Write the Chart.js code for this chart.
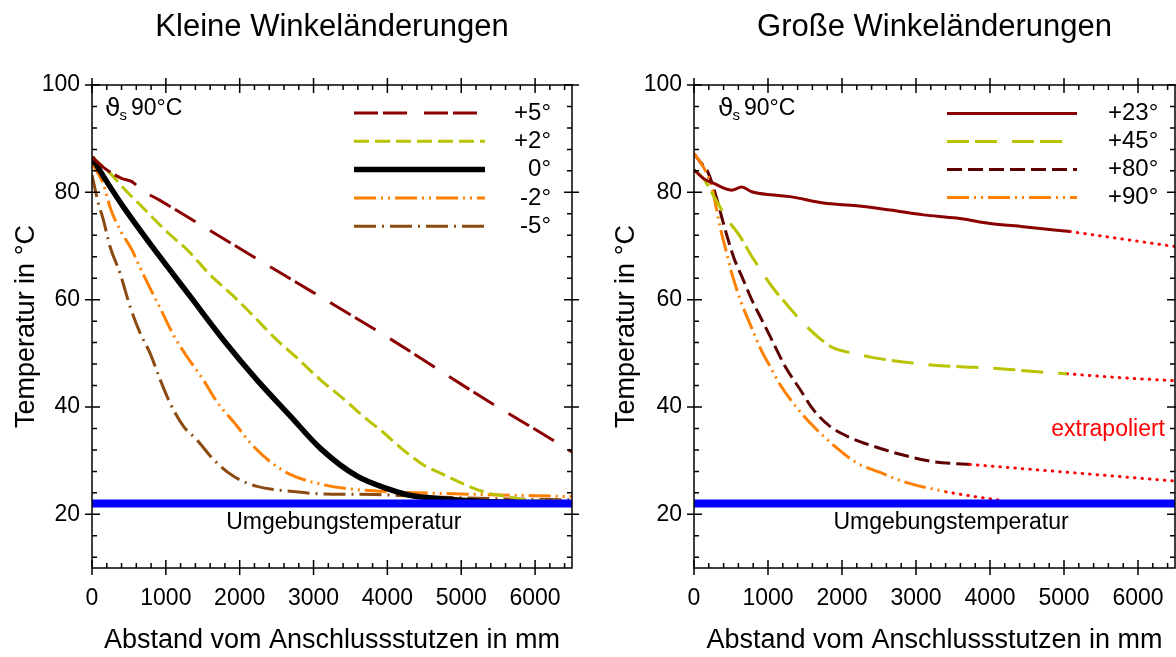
<!DOCTYPE html>
<html lang="de">
<head>
    <meta charset="UTF-8">
    <title>Winkeländerungen - Temperaturverlauf</title>
    <script src="https://cdn.jsdelivr.net/npm/chart.js"></script>
    <style>
        body {
            margin: 0;
            background-color: #ffffff;
        }
        #leftBox { position: absolute; left: 0; top: 0; }
        #rightBox { position: absolute; left: 600px; top: 0; }
    </style>
</head>
<body>
    <div id="leftBox"><canvas id="leftChart" width="600" height="657"></canvas></div>
    <div id="rightBox"><canvas id="rightChart" width="576" height="657"></canvas></div>

    <script>
        // ---------- Achsen ----------
        const xTickValues = [0, 1000, 2000, 3000, 4000, 5000, 6000];
        const yTickValues = [20, 40, 60, 80, 100];
        const xTitle = 'Abstand vom Anschlussstutzen in mm';
        const yTitle = 'Temperatur in °C';

        // Umgebungstemperatur
        const ambientX = [0, 6500];
        const ambientY = [22, 22];

        // ---------- Kleine Winkeländerungen ----------
        const plus5X = [0, 150, 400, 540, 675, 920, 1620, 2550, 3500, 4050, 5270, 6280, 6500];
        const plus5Y = [86.6, 84.7, 82.6, 82, 80.4, 78.5, 72.7, 65, 57.2, 52.6, 41.9, 33.5, 31.6];

        const plus2X = [0, 270, 425, 700, 1010, 1310, 1580, 1920, 2190, 2480, 2780, 3090, 3390, 3680, 3950, 4180, 4490, 4760, 4990, 5300, 5625, 5900, 6200, 6500];
        const plus2Y = [86.6, 83.2, 80.8, 77, 72.7, 69, 64.9, 60.6, 56.9, 52.8, 49.1, 45.1, 41.7, 38.2, 35.2, 32.4, 29.2, 27.4, 25.9, 24.2, 23.3, 22.7, 22.5, 22.4];

        const zeroX = [0, 200, 425, 880, 1330, 1780, 2230, 2680, 3100, 3590, 4040, 4320, 4720, 5300, 6500];
        const zeroY = [86.5, 82, 77.3, 68.7, 60.6, 52.5, 45.1, 38.4, 32.2, 27.1, 24.6, 23.5, 22.9, 22.4, 22.1];

        const minus2X = [0, 150, 250, 400, 540, 650, 810, 920, 1100, 1280, 1510, 1690, 1960, 2150, 2415, 2690, 3140, 3590, 4040, 5000, 6500];
        const minus2Y = [85.4, 81.7, 77, 72.5, 69.3, 66, 61.5, 58.5, 53.5, 49.5, 45, 41, 36.5, 33.2, 29.8, 27.4, 25.5, 24.6, 24.2, 23.8, 23.3];

        const minus5X = [0, 86, 153, 244, 380, 516, 651, 787, 923, 1058, 1239, 1420, 1646, 1917, 2234, 2687, 3139, 3817, 4495, 5500, 6500];
        const minus5Y = [83.2, 78, 74.9, 69.9, 64.9, 58.7, 53.8, 50, 45.1, 40.7, 36.4, 33.9, 30.2, 27.1, 25.2, 24.3, 23.8, 23.7, 23.3, 22.9, 22.7];

        // ---------- Große Winkeländerungen ----------
        const plus23X = [0, 126, 261, 509, 645, 780, 1072, 1297, 1748, 2198, 2648, 3099, 3550, 4000, 4450, 5080];
        const plus23Y = [84.2, 82.6, 81.7, 80.4, 81, 80.1, 79.5, 79.2, 78, 77.5, 76.7, 75.8, 75.2, 74.2, 73.6, 72.7];
        const plus23ExtX = [5080, 6500];
        const plus23ExtY = [72.7, 69.9];

        const plus45X = [0, 126, 284, 442, 622, 780, 869, 1050, 1253, 1500, 1680, 1883, 2153, 2423, 2829, 3324, 3775, 4270, 4676, 5040];
        const plus45Y = [84.2, 82.6, 78.9, 75.2, 71.8, 68.1, 66.2, 62.5, 59.1, 55.3, 53, 51, 50, 49.2, 48.4, 47.7, 47.4, 47, 46.5, 46.2];
        const plus45ExtX = [5040, 5720, 6500];
        const plus45ExtY = [46.2, 45.5, 44.9];

        const plus80X = [0, 81, 194, 306, 396, 531, 666, 780, 892, 1027, 1230, 1432, 1613, 1838, 2108, 2423, 2784, 3234, 3730];
        const plus80Y = [87.2, 85.7, 83.6, 78.9, 74.3, 68.1, 63.7, 60, 56.9, 53.2, 47.6, 43.3, 39.5, 36.4, 34.3, 32.7, 31.2, 29.8, 29.3];
        const plus80ExtX = [3730, 4811, 6500];
        const plus80ExtY = [29.3, 28.1, 26.2];

        const plus90X = [0, 81, 171, 239, 284, 351, 419, 509, 630, 750, 915, 1027, 1162, 1388, 1613, 1928, 2198, 2514, 2874, 3400];
        const plus90Y = [87.2, 85.7, 83.6, 81.1, 78.3, 73.6, 69.9, 65, 59.8, 55.7, 50.4, 47.6, 44.2, 39.9, 36.4, 32.4, 29.6, 27.8, 25.9, 24.2];
        const plus90ExtX = [3400, 3750, 4150];
        const plus90ExtY = [24.2, 23.4, 22.6];

        const toPoints = (xs, ys) => xs.map((x, i) => ({ x: x, y: ys[i] }));

        Chart.defaults.font.family = '"Liberation Sans", Arial, sans-serif';
        Chart.defaults.color = '#000';

        const line = (label, xs, ys, color, width, dash, order) => ({
            label: label,
            data: toPoints(xs, ys),
            borderColor: color,
            borderWidth: width,
            borderDash: dash,
            order: order || 0,
            pointRadius: 0,
            fill: false,
            cubicInterpolationMode: 'monotone'
        });
        const ambient = () => ({
            label: 'Umgebungstemperatur', inLegend: false,
            data: toPoints(ambientX, ambientY),
            borderColor: '#0000ff', borderWidth: 8, borderCapStyle: 'round',
            pointRadius: 0, fill: false
        });
        const extrap = (xs, ys) => ({
            label: 'extrapoliert', inLegend: false,
            data: toPoints(xs, ys),
            borderColor: '#ff0000', borderWidth: 3, borderDash: [0.5, 7], borderCapStyle: 'round',
            pointRadius: 0, fill: false, cubicInterpolationMode: 'monotone'
        });

        // Rahmen + Haupt- und Nebenstriche auf allen vier Seiten
        const frameTicks = {
            id: 'frameTicks',
            afterDraw(chart) {
                const { ctx, chartArea: a, scales: { x, y } } = chart;
                ctx.save();
                ctx.strokeStyle = '#000';
                ctx.lineWidth = 1.5;
                ctx.setLineDash([]);
                ctx.strokeRect(a.left, a.top, a.right - a.left, a.bottom - a.top);
                ctx.beginPath();
                for (let v = 0; v <= 6400; v += 200) {
                    const px = x.getPixelForValue(v);
                    const major = v % 1000 === 0;
                    ctx.moveTo(px, a.bottom + (major ? 7 : 0));
                    ctx.lineTo(px, a.bottom - (major ? 8 : 5));
                    ctx.moveTo(px, a.top - (major ? 7 : 0));
                    ctx.lineTo(px, a.top + (major ? 8 : 5));
                }
                for (let v = 12; v <= 100; v += 4) {
                    const py = y.getPixelForValue(v);
                    const major = v % 20 === 0;
                    ctx.moveTo(a.left - (major ? 7 : 0), py);
                    ctx.lineTo(a.left + (major ? 8 : 5), py);
                    ctx.moveTo(a.right + (major ? 7 : 0), py);
                    ctx.lineTo(a.right - (major ? 8 : 5), py);
                }
                ctx.stroke();
                ctx.restore();
            }
        };

        // Titel, Legende und Beschriftungen
        const labels = {
            id: 'labels',
            afterDraw(chart, args, opts) {
                const { ctx, chartArea: a, scales: { x, y } } = chart;
                ctx.save();
                ctx.fillStyle = '#000';
                ctx.textBaseline = 'middle';
                ctx.textAlign = 'center';
                ctx.font = '31px "Liberation Sans", Arial, sans-serif';
                ctx.fillText(opts.title, (a.left + a.right) / 2, 27);

                // ϑs 90°C
                let tx = x.getPixelForValue(opts.theta[0]);
                const ty = y.getPixelForValue(opts.theta[1]);
                ctx.textAlign = 'left';
                ctx.font = '25px "DejaVu Sans", sans-serif';
                ctx.fillText('ϑ', tx, ty);
                tx += ctx.measureText('ϑ').width - 1;
                ctx.font = '15px "Liberation Sans", Arial, sans-serif';
                ctx.fillText('s', tx, ty + 7);
                tx += ctx.measureText('s').width + 4;
                ctx.font = '23px "Liberation Sans", Arial, sans-serif';
                ctx.fillText('90°C', tx, ty);

                opts.notes.forEach(n => {
                    ctx.fillStyle = n.color || '#000';
                    ctx.textAlign = n.align || 'center';
                    ctx.fillText(n.text, x.getPixelForValue(n.x), y.getPixelForValue(n.y));
                });

                // Legende
                const lg = opts.legend;
                let row = 0;
                chart.data.datasets.forEach(ds => {
                    if (ds.inLegend === false) return;
                    const ly = lg.y0 + row * lg.dy;
                    ctx.beginPath();
                    ctx.strokeStyle = ds.borderColor;
                    ctx.lineWidth = ds.borderWidth;
                    ctx.lineCap = ds.borderCapStyle || 'butt';
                    ctx.setLineDash(ds.borderDash || []);
                    ctx.moveTo(lg.x1, ly);
                    ctx.lineTo(lg.x2, ly);
                    ctx.stroke();
                    ctx.setLineDash([]);
                    ctx.fillStyle = '#000';
                    ctx.textAlign = lg.align;
                    ctx.font = '24px "Liberation Sans", Arial, sans-serif';
                    ctx.fillText(ds.label, lg.tx, ly);
                    row++;
                });
                ctx.restore();
            }
        };

        const makeChart = (id, datasets, yWidth, padRight, labelOpts) => new Chart(document.getElementById(id), {
            type: 'line',
            data: { datasets: datasets },
            plugins: [frameTicks, labels],
            options: {
                responsive: false,
                animation: false,
                layout: { padding: { top: 85, right: padRight, bottom: 0, left: 0 } },
                plugins: {
                    legend: { display: false },
                    tooltip: { enabled: false },
                    labels: labelOpts
                },
                scales: {
                    x: {
                        type: 'linear', min: 0, max: 6500,
                        afterBuildTicks: s => { s.ticks = xTickValues.map(v => ({ value: v })); },
                        afterFit: s => { s.height = 89; s.paddingLeft = 0; s.paddingRight = 0; },
                        grid: { display: false, drawTicks: false },
                        border: { display: false },
                        ticks: { font: { size: 23 }, color: '#000', padding: 17, maxRotation: 0, autoSkip: false, callback: v => String(v) },
                        title: { display: true, text: xTitle, font: { size: 27 }, color: '#000', padding: { top: 0, bottom: 0 } }
                    },
                    y: {
                        type: 'linear', min: 10, max: 100,
                        afterBuildTicks: s => { s.ticks = yTickValues.map(v => ({ value: v })); },
                        afterFit: s => { s.width = yWidth; },
                        grid: { display: false, drawTicks: false },
                        border: { display: false },
                        ticks: { font: { size: 23 }, color: '#000', padding: 12, callback: v => String(v) },
                        title: { display: true, text: yTitle, font: { size: 27 }, color: '#000', padding: { top: 10, bottom: 0 } }
                    }
                }
            }
        });

        makeChart('leftChart', [
            ambient(),
            line('+5°', plus5X, plus5Y, '#8b0000', 3, [24, 5, 24, 17]),
            line('+2°', plus2X, plus2Y, '#b9c300', 3, [15, 6]),
            line('0°', zeroX, zeroY, '#000000', 5.5, []),
            line('-2°', minus2X, minus2Y, '#ff8000', 3, [22, 5, 2, 5, 2, 5]),
            line('-5°', minus5X, minus5Y, '#8b4a0f', 3, [22, 6, 2, 6])
        ], 92, 28, {
            title: 'Kleine Winkeländerungen',
            theta: [176, 95.5],
            notes: [{ text: 'Umgebungstemperatur', x: 3410, y: 18.4 }],
            legend: { x1: 354, x2: 485, y0: 113, dy: 28.3, tx: 551, align: 'right' }
        });

        makeChart('rightChart', [
            ambient(),
            line('+23°', plus23X, plus23Y, '#8b0000', 3, []),
            line('+45°', plus45X, plus45Y, '#b9c300', 3, [22, 6, 22, 15]),
            line('+80°', plus80X, plus80Y, '#5c0000', 3, [15, 6], 1),
            line('+90°', plus90X, plus90Y, '#ff8000', 3, [22, 5, 2, 5, 2, 5]),
            extrap(plus23ExtX, plus23ExtY),
            extrap(plus45ExtX, plus45ExtY),
            extrap(plus80ExtX, plus80ExtY),
            extrap(plus90ExtX, plus90ExtY)
        ], 94, 1, {
            title: 'Große Winkeländerungen',
            theta: [324, 95.5],
            notes: [
                { text: 'Umgebungstemperatur', x: 3473, y: 18.4 },
                { text: 'extrapoliert', x: 6365, y: 35.8, align: 'right', color: '#ff0000' }
            ],
            legend: { x1: 347, x2: 477, y0: 113.5, dy: 28, tx: 508, align: 'left' }
        });
    </script>
</body>
</html>
